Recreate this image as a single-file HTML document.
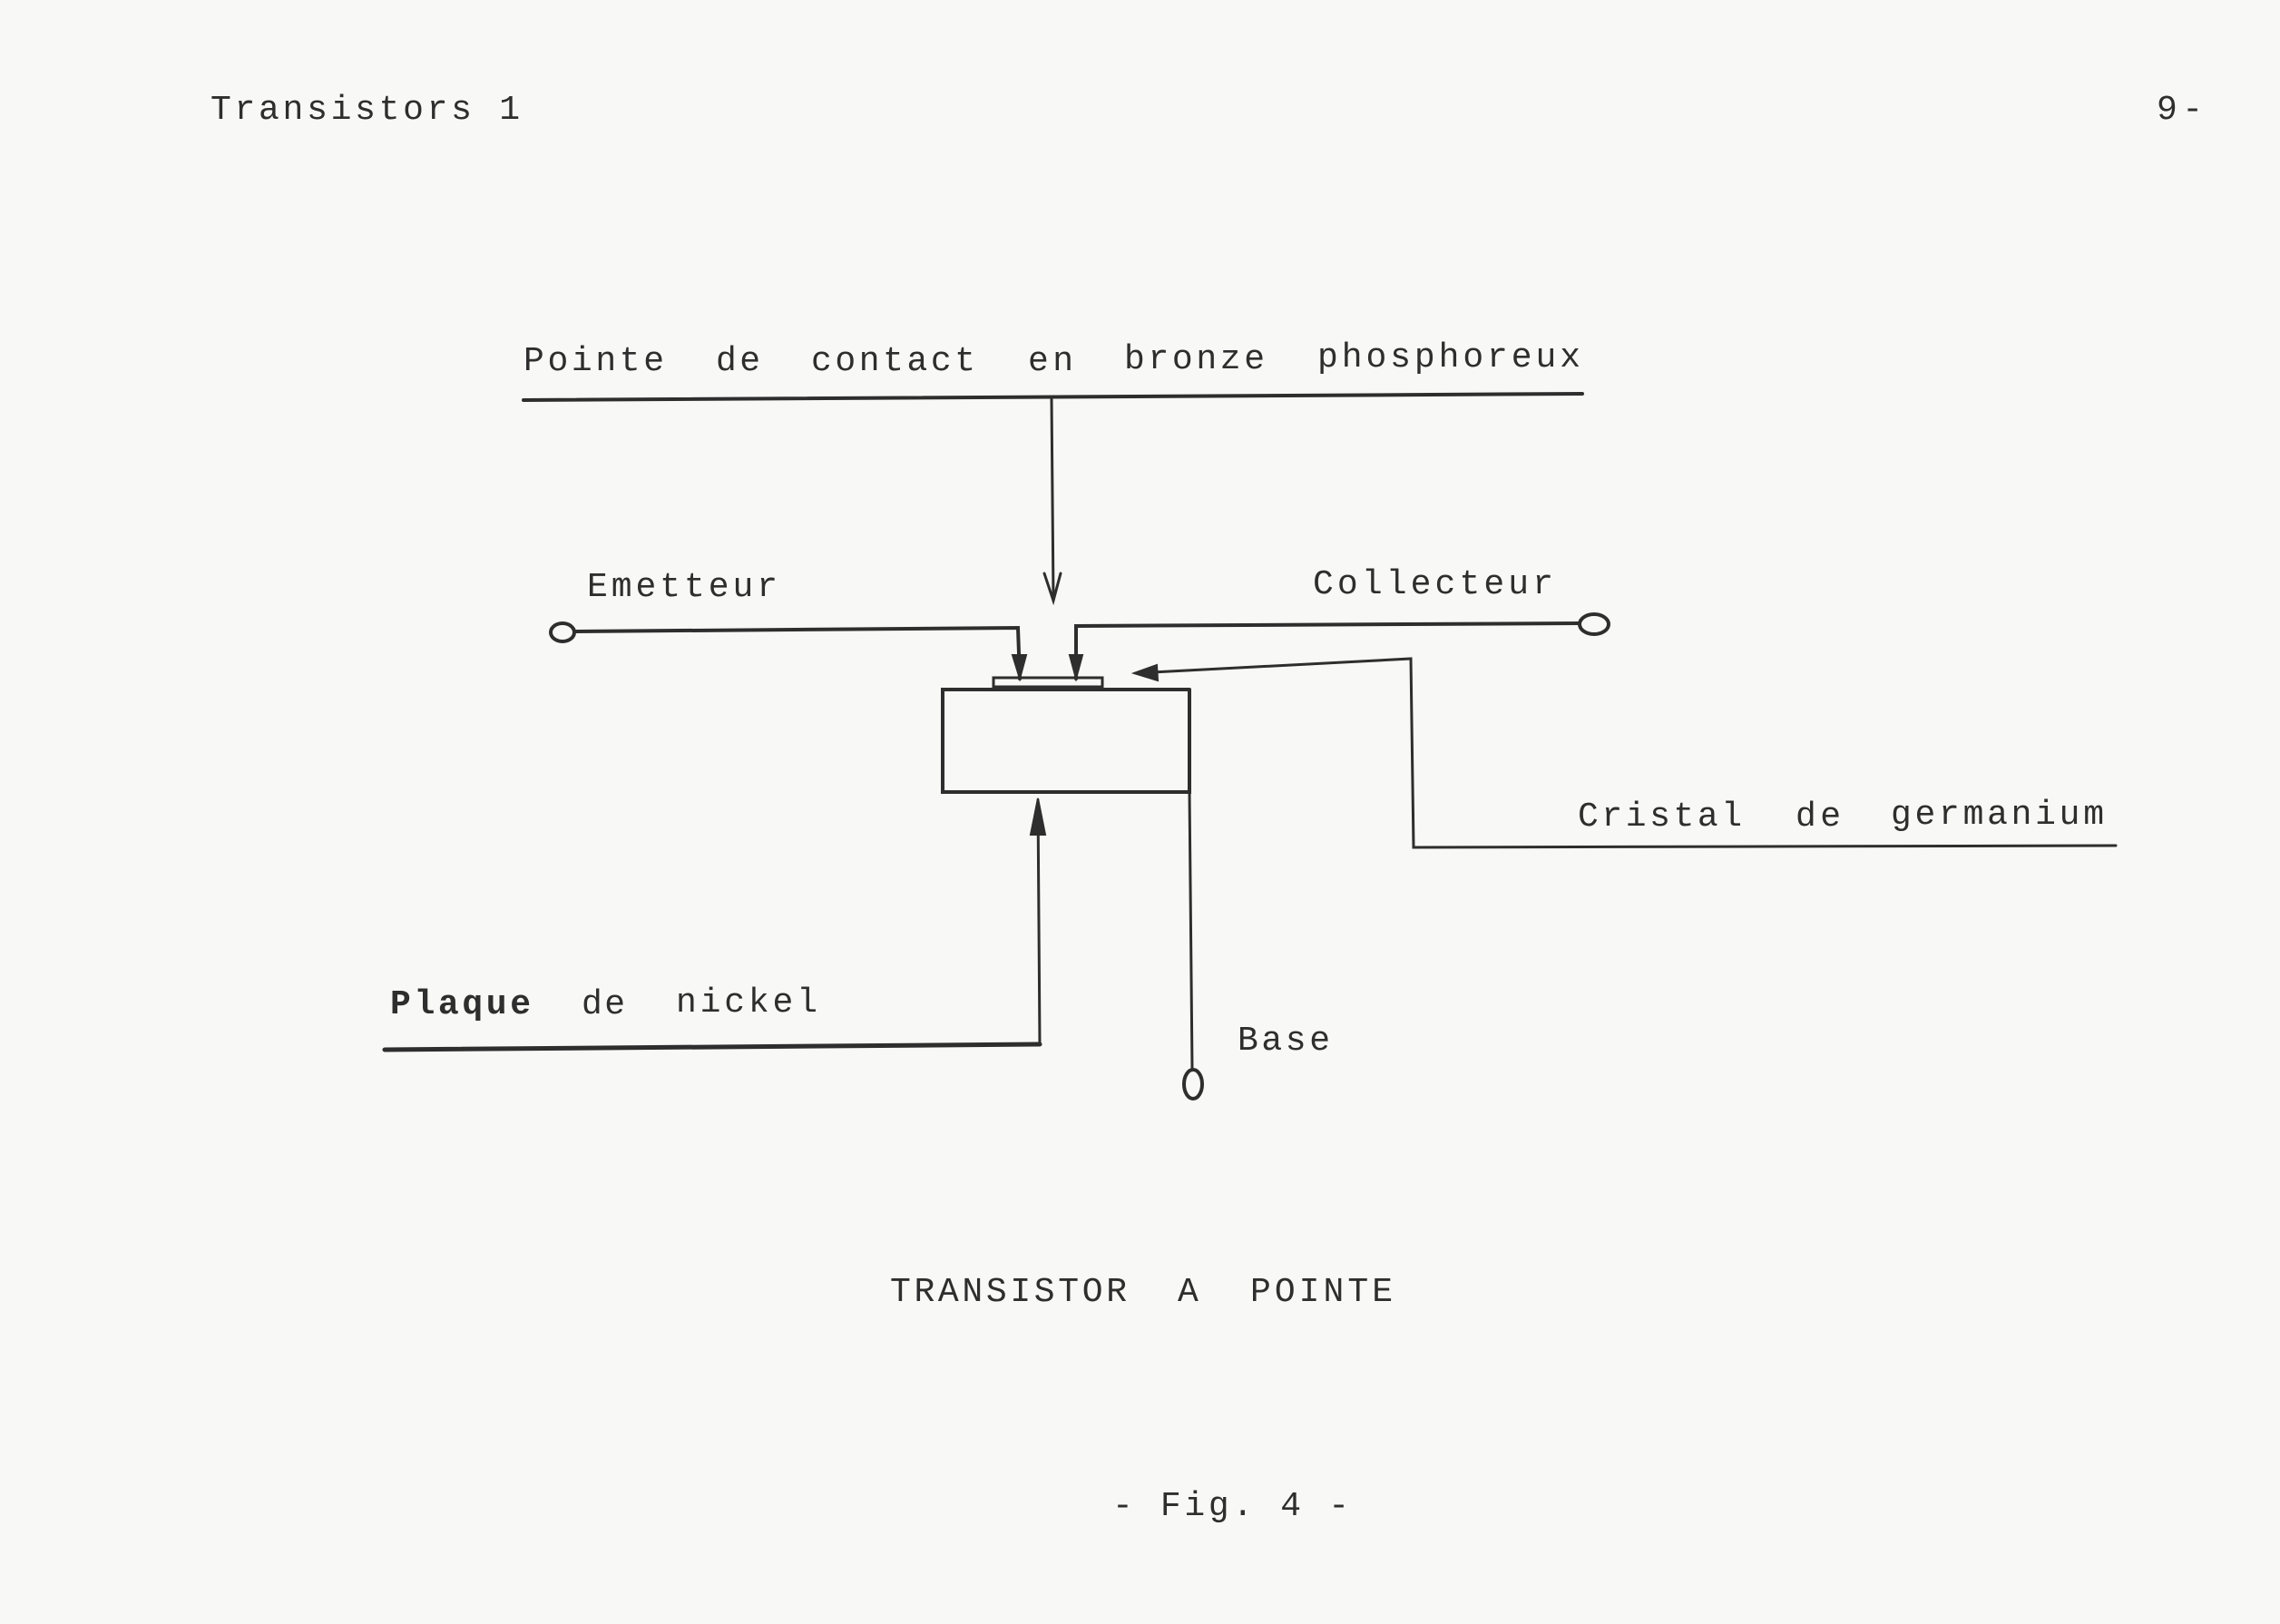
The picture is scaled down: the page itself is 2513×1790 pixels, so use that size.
<!DOCTYPE html>
<html><head><meta charset="utf-8"><style>
html,body{margin:0;padding:0;background:#f8f8f6;}
svg{display:block}
text{font-family:"Liberation Mono",monospace;fill:#2e2e2e;font-size:38px;}
</style></head><body>
<svg width="2513" height="1790" viewBox="0 0 2513 1790" xmlns="http://www.w3.org/2000/svg">
<rect width="2513" height="1790" fill="#f8f8f6"/>
<g stroke="#2e2e2e" fill="none" stroke-linecap="round">
<text x="232" y="131" textLength="341" stroke="none">Transistors 1</text>
<text x="2377" y="131" textLength="51" stroke="none">9-</text>

<text x="577" y="408" textLength="155" stroke="none">Pointe</text>
<text x="789" y="408" textLength="49" stroke="none">de</text>
<text x="894" y="408" textLength="181" stroke="none">contact</text>
<text x="1133" y="408" textLength="50" stroke="none">en</text>
<text x="1239" y="406" textLength="155" stroke="none">bronze</text>
<text x="1452" y="404" textLength="290" stroke="none">phosphoreux</text>
<line x1="577" y1="441" x2="1744" y2="434" stroke-width="4"/>
<line x1="1159" y1="438" x2="1161" y2="660" stroke-width="3"/>
<polyline points="1151,632 1161,662 1169,632" stroke-width="3"/>

<text x="647" y="657" textLength="210" stroke="none">Emetteur</text>
<ellipse cx="620" cy="697" rx="13" ry="10" stroke-width="4"/>
<polyline points="633,696 1122,692 1124,748" stroke-width="4"/>
<polygon points="1116,722 1124,748 1131,722" fill="#2e2e2e" stroke-width="2"/>

<text x="1447" y="654" textLength="265" stroke="none">Collecteur</text>
<ellipse cx="1757" cy="688" rx="16" ry="11" stroke-width="4"/>
<polyline points="1741,687 1186,690 1186,748" stroke-width="4"/>
<polygon points="1179,722 1186,748 1193,722" fill="#2e2e2e" stroke-width="2"/>

<rect x="1095" y="747" width="120" height="10" stroke-width="3"/>
<polyline points="1311,760 1039,760 1039,873 1311,873 1311,760" stroke-width="4"/>
<line x1="1311" y1="873" x2="1314" y2="1178" stroke-width="3"/>
<ellipse cx="1315" cy="1195" rx="10" ry="16" stroke-width="4"/>
<text x="1364" y="1157" textLength="102" stroke="none">Base</text>

<polyline points="1252,742 1555,726 1558,934 2332,932" stroke-width="3"/>
<polygon points="1250,742 1275,733 1276,750" fill="#2e2e2e" stroke-width="2"/>
<text x="1739" y="910" textLength="181" stroke="none">Cristal</text>
<text x="1979" y="910" textLength="50" stroke="none">de</text>
<text x="2084" y="908" textLength="235" stroke="none">germanium</text>

<text x="430" y="1117" textLength="155" stroke="none" style="font-weight:bold">Plaque</text>
<text x="641" y="1117" textLength="48" stroke="none">de</text>
<text x="745" y="1115" textLength="156" stroke="none">nickel</text>
<line x1="424" y1="1157" x2="1146" y2="1151" stroke-width="5"/>
<line x1="1146" y1="1151" x2="1144" y2="882" stroke-width="3"/>
<polygon points="1144,880 1136,920 1152,920" fill="#2e2e2e" stroke-width="2"/>

<text x="981" y="1434" textLength="261" stroke="none">TRANSISTOR</text>
<text x="1298" y="1434" textLength="24" stroke="none">A</text>
<text x="1378" y="1434" textLength="157" stroke="none">POINTE</text>

<text x="1226" y="1670" textLength="261" stroke="none">- Fig. 4 -</text>
</g>
</svg>
</body></html>
